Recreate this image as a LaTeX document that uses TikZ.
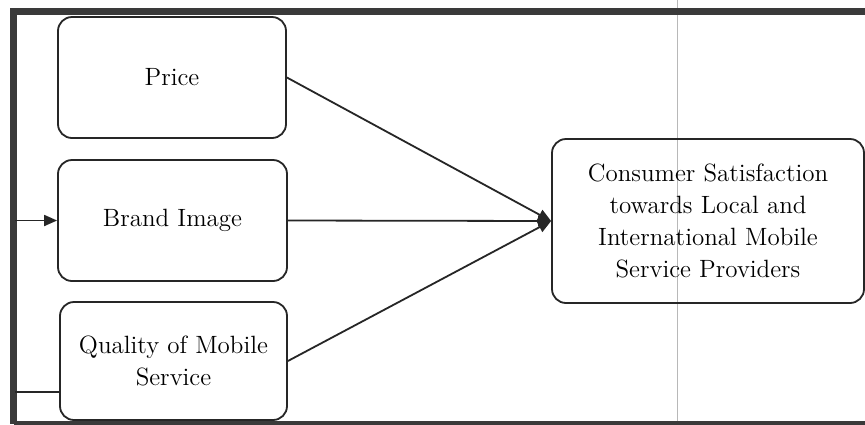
\documentclass[tikz,border=0pt]{standalone}
\usetikzlibrary{arrows.meta,calc}
\definecolor{ink}{HTML}{262626}
\definecolor{frame}{HTML}{3A3A3A}
\definecolor{fold}{HTML}{B8B8B8}
\begin{document}
\begin{tikzpicture}[x=0.5pt,y=-0.5pt,
  box/.style={draw=ink,line width=0.9pt,rounded corners=7pt,align=center,
    font=\fontsize{12.5}{16}\selectfont,text=black,inner sep=2pt},
  link/.style={draw=ink,line width=0.9pt},
  tip/.style={-{Triangle[length=6.5pt,width=5.5pt]}}]
\useasboundingbox (0,0) rectangle (865,424);
\fill[white] (0,0) rectangle (865,424);
% fold line of the scan
\draw[fold,line width=0.5pt] (677,0) -- (677,424);
% frame
\draw[frame,line width=3.2pt] (865,11.5) -- (13.5,11.5) -- (13.5,424);
\draw[frame,line width=1.6pt] (13.5,423) -- (865,423);
% boxes
\node[box,minimum width=114pt,minimum height=60.5pt] (price) at (172,77.5) {Price};
\node[box,minimum width=114.5pt,minimum height=60.5pt] (brand) at (172.5,220.5) {Brand Image};
\node[box,minimum width=113.5pt,minimum height=59pt] (qual) at (173.5,361) {Quality of Mobile\\Service};
\node[box,minimum width=156pt,minimum height=82pt] (cons) at (708,221) {Consumer Satisfaction\\towards Local and\\International Mobile\\Service Providers};
% connectors
\coordinate (inB) at (15,220.5);
\coordinate (inQ) at (15,392);
\draw[link,tip] (inB) -- (brand.west);
\draw[link] (inQ) -- (qual.west |- inQ);
\draw[link,tip] (price.east) -- (cons.west);
\draw[link,tip] (brand.east) -- (cons.west);
\draw[link,tip] (qual.east) -- (cons.west);
\end{tikzpicture}
\end{document}
